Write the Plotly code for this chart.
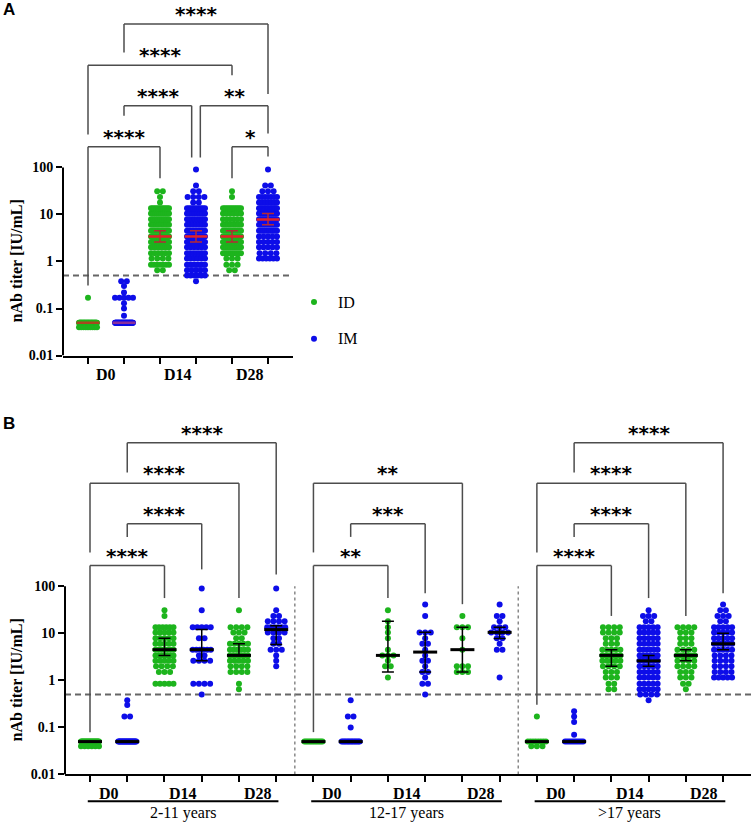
import math
import plotly.graph_objects as go

W, H = 753, 832
GREEN = "#1db41d"
BLUE = "#0d0de8"
SERIF = "Liberation Serif"

# ---------------- data: titer value (IU/mL) -> number of subjects ----------------
# age group 2-11 years
C211_D0_ID = {0.04: 6, 0.05: 22}
C211_D0_IM = {0.05: 24, 0.17: 2, 0.3: 1, 0.38: 1}
C211_D14_ID = {0.85: 5, 1.5: 3, 2.0: 4, 2.6: 5, 3.4: 7, 4.5: 7, 6.0: 5, 7.9: 5, 10.4: 5, 13.5: 6, 23.5: 1, 31: 1}
C211_D14_IM = {0.5: 1, 0.85: 4, 2.6: 4, 3.4: 2, 4.5: 6, 7.9: 2, 13.5: 5, 31: 1, 90: 1}
C211_D28_ID = {0.65: 1, 0.85: 1, 1.5: 4, 2.0: 4, 2.6: 5, 3.4: 7, 4.5: 6, 6.0: 5, 7.9: 2, 10.4: 3, 13.5: 4, 31: 1}
C211_D28_IM = {2.0: 1, 2.6: 1, 3.4: 1, 4.5: 3, 6.0: 2, 7.9: 2, 10.4: 4, 13.5: 6, 18: 4, 23.5: 2, 31: 1, 90: 1}
# age group 12-17 years
C1217_D0_ID = {0.05: 12}
C1217_D0_IM = {0.05: 14, 0.1: 1, 0.17: 2, 0.38: 1}
C1217_D14_ID = {1.15: 1, 2.0: 2, 2.6: 1, 3.4: 3, 4.5: 1, 7.9: 1, 10.4: 1, 13.5: 1, 18: 1, 31: 1}
C1217_D14_IM = {0.5: 1, 0.85: 2, 1.15: 1, 1.5: 2, 2.0: 1, 2.6: 2, 3.4: 1, 4.5: 1, 6.0: 2, 7.9: 1, 10.4: 3, 23.5: 1, 41: 1}
C1217_D28_ID = {1.5: 3, 2.0: 3, 4.5: 1, 7.9: 1, 13.5: 3, 23.5: 1}
C1217_D28_IM = {1.15: 1, 4.5: 2, 6.0: 1, 7.9: 2, 10.4: 4, 13.5: 3, 18: 1, 23.5: 2, 41: 1}
# age group >17 years
C17_D0_ID = {0.04: 3, 0.05: 8, 0.17: 1}
C17_D0_IM = {0.05: 10, 0.07: 1, 0.13: 1, 0.17: 1, 0.22: 1}
C17_D14_ID = {0.65: 2, 0.85: 2, 1.15: 3, 1.5: 3, 2.0: 4, 2.6: 5, 3.4: 6, 4.5: 5, 6.0: 3, 7.9: 3, 10.4: 4, 13.5: 4}
C17_D14_IM = {0.38: 1, 0.5: 4, 0.65: 5, 0.85: 5, 1.15: 5, 1.5: 5, 2.0: 5, 2.6: 6, 3.4: 6, 4.5: 6, 6.0: 5,
              7.9: 5, 10.4: 5, 13.5: 5, 18: 2, 23.5: 3, 31: 1}
C17_D28_ID = {0.65: 1, 0.85: 2, 1.15: 3, 1.5: 3, 2.0: 4, 2.6: 4, 3.4: 6, 4.5: 4, 6.0: 3, 7.9: 3, 10.4: 3, 13.5: 4}
C17_D28_IM = {1.15: 5, 1.5: 4, 2.0: 4, 2.6: 4, 3.4: 4, 4.5: 5, 6.0: 6, 7.9: 5, 10.4: 5, 13.5: 5, 18: 2,
              23.5: 3, 31: 2, 41: 1}

GROUPS_B = [
    [C211_D0_ID, C211_D0_IM, C211_D14_ID, C211_D14_IM, C211_D28_ID, C211_D28_IM],
    [C1217_D0_ID, C1217_D0_IM, C1217_D14_ID, C1217_D14_IM, C1217_D28_ID, C1217_D28_IM],
    [C17_D0_ID, C17_D0_IM, C17_D14_ID, C17_D14_IM, C17_D28_ID, C17_D28_IM],
]
AGE_LABELS = ["2-11 years", "12-17 years", ">17 years"]
DAY_LABELS = ["D0", "D14", "D28"]
ROUTE_LABELS = ["ID", "IM"]
LOD = 0.5

# medians with error bars
MED_A = [0.05, 0.05, 3.4, 3.4, 3.4, 7.8]
LO_A = [0.05, 0.05, 2.6, 2.6, 2.6, 6.0]
HI_A = [0.05, 0.05, 4.5, 4.5, 4.5, 10.4]
MED_B = [0.05, 0.05, 4.5, 4.5, 3.4, 12.0,
         0.05, 0.05, 3.4, 4.0, 4.5, 10.5,
         0.05, 0.05, 3.4, 2.6, 3.4, 6.0]
LO_B = [0.05, 0.05, 3.4, 2.6, 3.4, 5.8,
        0.05, 0.05, 1.5, 1.5, 1.5, 7.8,
        0.05, 0.05, 2.0, 2.0, 2.6, 4.5]
HI_B = [0.05, 0.05, 7.9, 12.0, 6.0, 14.5,
        0.05, 0.05, 18.0, 10.5, 13.5, 13.5,
        0.05, 0.05, 4.5, 3.4, 4.5, 10.0]

# significance brackets: (left col, right col, bar level log10, left leg end log10, right leg end log10, label)
BRACKETS_A = [
    (1, 5, 5.05, 4.44, 3.56, "****"),
    (0, 4, 4.17, 2.70, 3.96, "****"),
    (1, 2.88, 3.31, 3.10, 2.21, "****"),
    (3.12, 5, 3.31, 2.21, 2.72, "**"),
    (4, 5, 2.44, 1.77, 2.23, "*"),
    (0, 2, 2.44, -0.51, 1.77, "****"),
]
BRACKETS_B = [
    (1, 5, 5.05, 4.42, 2.25, "****"),
    (0, 4, 4.19, 2.72, 1.75, "****"),
    (1, 3, 3.33, 3.05, 2.36, "****"),
    (0, 2, 2.44, -1.10, 1.75, "****"),
    (6, 10, 4.19, 2.72, 1.62, "**"),
    (7, 9, 3.33, 3.05, 1.85, "***"),
    (6, 8, 2.44, -1.10, 1.75, "**"),
    (13, 17, 5.05, 4.42, 1.85, "****"),
    (12, 16, 4.19, 2.72, 1.37, "****"),
    (13, 15, 3.33, 3.05, 1.75, "****"),
    (12, 14, 2.44, -0.52, 1.37, "****"),
]

# ---------------- geometry (pixels) ----------------
A_X0, A_X1, A_C0, A_PPU = 63, 293, 88, 36.0
A_YBOT, A_PPD = 359, 47.5
B_X0, B_X1, B_C0, B_PPU = 65, 751, 90, 37.24
B_YBOT, B_YTOP = 782, 420

a_xr = [(A_X0 - A_C0) / A_PPU, (A_X1 - A_C0) / A_PPU]
b_xr = [(B_X0 - B_C0) / B_PPU, (B_X1 - B_C0) / B_PPU]
a_yr = [-2, -2 + A_YBOT / A_PPD]
b_yr = [-2, -2 + (B_YBOT - B_YTOP) / A_PPD]


def swarm(counts, center, ppu, dot=5.6, span=18.0):
    xs, ys = [], []
    for v in sorted(counts):
        n = counts[v]
        step = dot if (n - 1) * dot <= span else span / (n - 1)
        for i in range(n):
            xs.append(center + (i - (n - 1) / 2) * step / ppu)
            ys.append(v)
    return xs, ys


def pooled(col):
    out = {}
    for g in GROUPS_B:
        for v, n in g[col].items():
            out[v] = out.get(v, 0) + n
    return out


fig = go.Figure()

# ---- Panel A points (all ages pooled) ----
for col in range(6):
    xs, ys = swarm(pooled(col), col, A_PPU)
    fig.add_trace(go.Scatter(x=xs, y=ys, mode="markers", xaxis="x", yaxis="y",
                             marker=dict(size=6, color=GREEN if col % 2 == 0 else BLUE),
                             showlegend=False, hoverinfo="skip"))
# ---- Panel B points ----
for g, grp in enumerate(GROUPS_B):
    for col in range(6):
        xs, ys = swarm(grp[col], g * 6 + col, B_PPU)
        fig.add_trace(go.Scatter(x=xs, y=ys, mode="markers", xaxis="x2", yaxis="y2",
                                 marker=dict(size=6, color=GREEN if col % 2 == 0 else BLUE),
                                 showlegend=False, hoverinfo="skip"))

# ---- error bars ----
fig.add_trace(go.Scatter(x=list(range(6)), y=MED_A, mode="markers", xaxis="x", yaxis="y",
                         marker=dict(size=1, color="rgba(0,0,0,0)"),
                         error_y=dict(type="data", symmetric=False,
                                      array=[h - m for h, m in zip(HI_A, MED_A)],
                                      arrayminus=[m - l for l, m in zip(LO_A, MED_A)],
                                      color="#b52a35", thickness=1.5, width=6),
                         showlegend=False, hoverinfo="skip"))
fig.add_trace(go.Scatter(x=list(range(18)), y=MED_B, mode="markers", xaxis="x2", yaxis="y2",
                         marker=dict(size=1, color="rgba(0,0,0,0)"),
                         error_y=dict(type="data", symmetric=False,
                                      array=[h - m for h, m in zip(HI_B, MED_B)],
                                      arrayminus=[m - l for l, m in zip(LO_B, MED_B)],
                                      color="black", thickness=1.5, width=6),
                         showlegend=False, hoverinfo="skip"))

# ---- median lines ----
A_MEDCOL = ["#a8461f", "#8a2f9a", "#e3202a", "#e3202a", "#e3202a", "#e3202a"]
for col in range(6):
    hw = 11.5 / A_PPU
    fig.add_trace(go.Scatter(x=[col - hw, col + hw], y=[MED_A[col]] * 2, mode="lines",
                             xaxis="x", yaxis="y", line=dict(color=A_MEDCOL[col], width=2.5),
                             showlegend=False, hoverinfo="skip"))
mx, my = [], []
for col in range(18):
    hw = 12 / B_PPU
    mx += [col - hw, col + hw, None]
    my += [MED_B[col], MED_B[col], None]
fig.add_trace(go.Scatter(x=mx, y=my, mode="lines", xaxis="x2", yaxis="y2",
                         line=dict(color="black", width=3), showlegend=False, hoverinfo="skip"))

shapes = []
annos = []
BR_COLOR = "#4d4d4d"
STAR_OFF = 10  # px above bracket bar


def add_brackets(brs, xref, yref):
    for (l, r, lev, le, re_, lab) in brs:
        for (x0, y0, x1, y1) in [(l, le, l, lev), (l, lev, r, lev), (r, lev, r, re_)]:
            shapes.append(dict(type="line", xref=xref, yref=yref, x0=x0, y0=10 ** y0, x1=x1, y1=10 ** y1,
                               line=dict(color=BR_COLOR, width=1.5)))
        annos.append(dict(xref=xref, yref=yref, x=(l + r) / 2, y=lev + STAR_OFF / A_PPD, text=lab,
                          showarrow=False, xanchor="center", yanchor="middle",
                          font=dict(family="DejaVu Sans", size=20, color="black", weight="bold")))


add_brackets(BRACKETS_A, "x", "y")
add_brackets(BRACKETS_B, "x2", "y2")

# y-axis lines (only 0.01 - 100)
shapes.append(dict(type="line", xref="paper", yref="y", x0=A_X0 / W, x1=A_X0 / W, y0=0.01, y1=100,
                   line=dict(color="black", width=2)))
shapes.append(dict(type="line", xref="paper", yref="y2", x0=B_X0 / W, x1=B_X0 / W, y0=0.01, y1=100,
                   line=dict(color="black", width=2)))
# LOD dashed lines
shapes.append(dict(type="line", xref="x", yref="y", x0=a_xr[0], x1=a_xr[1], y0=LOD, y1=LOD, layer="below",
                   line=dict(color="#666666", width=2, dash="6px,4px")))
shapes.append(dict(type="line", xref="x2", yref="y2", x0=b_xr[0], x1=b_xr[1], y0=LOD, y1=LOD, layer="below",
                   line=dict(color="#666666", width=2, dash="6px,4px")))
# dotted group separators
for xs_ in (5.5, 11.5):
    shapes.append(dict(type="line", xref="x2", yref="y2", x0=xs_, x1=xs_, y0=0.01, y1=100, layer="below",
                       line=dict(color="#888888", width=1.5, dash="dot")))

# x category labels
lab_font = dict(family=SERIF, size=16, color="black", weight="bold")
for d, dl in enumerate(DAY_LABELS):
    annos.append(dict(xref="x", yref="paper", x=2 * d + 0.5, y=1 - 378 / H, text=dl, showarrow=False,
                      xanchor="center", yanchor="middle", font=lab_font))
for g, al in enumerate(AGE_LABELS):
    for d, dl in enumerate(DAY_LABELS):
        annos.append(dict(xref="x2", yref="paper", x=g * 6 + 2 * d + 0.5, y=1 - 801 / H, text=dl,
                          showarrow=False, xanchor="center", yanchor="middle", font=lab_font))
    shapes.append(dict(type="line", xref="x2", yref="paper", x0=g * 6 - 0.06, x1=g * 6 + 5.06,
                       y0=1 - 809 / H, y1=1 - 809 / H, line=dict(color="black", width=2)))
    annos.append(dict(xref="x2", yref="paper", x=g * 6 + 2.5, y=1 - 821 / H, text=al, showarrow=False,
                      xanchor="center", yanchor="middle",
                      font=dict(family=SERIF, size=16, color="black")))

# y titles
for yref in ("y", "y2"):
    annos.append(dict(xref="paper", yref=yref, x=16 / W, y=0, text="nAb titer [IU/mL]", textangle=-90,
                      showarrow=False, xanchor="center", yanchor="middle",
                      font=dict(family=SERIF, size=16, color="black", weight="bold")))

# panel letters
annos.append(dict(xref="paper", yref="paper", x=1 / W, y=1 - 10 / H, text="A", showarrow=False,
                  xanchor="left", yanchor="middle",
                  font=dict(family="Liberation Sans", size=17, color="black", weight="bold")))
annos.append(dict(xref="paper", yref="paper", x=1 / W, y=1 - 428 / H, text="B", showarrow=False,
                  xanchor="left", yanchor="middle",
                  font=dict(family="Liberation Sans", size=17, color="black", weight="bold")))

# legend (panel A)
for i, (lab, colr) in enumerate(zip(ROUTE_LABELS, [GREEN, BLUE])):
    py = 305 + i * 37
    shapes.append(dict(type="circle", xref="paper", yref="paper", xsizemode="pixel", ysizemode="pixel",
                       xanchor=314 / W, yanchor=1 - py / H, x0=-3, x1=3, y0=-3, y1=3,
                       fillcolor=colr, line=dict(width=0)))
    annos.append(dict(xref="paper", yref="paper", x=336 / W, y=1 - py / H, text=lab, showarrow=False,
                      xanchor="left", yanchor="middle", font=dict(family=SERIF, size=16, color="black")))

tickfont = dict(family=SERIF, size=14, color="black", weight="bold")
yticks = [0.01, 0.1, 1, 10, 100]
yticktext = ["0.01", "0.1", "1", "10", "100"]
common_x = dict(showgrid=False, zeroline=False, showline=True, linewidth=2, linecolor="black",
                ticks="outside", ticklen=6, tickwidth=2, tickcolor="black", showticklabels=False)
common_y = dict(type="log", showgrid=False, zeroline=False, showline=False, ticks="outside", ticklen=6,
                tickwidth=2, tickcolor="black", tickvals=yticks, ticktext=yticktext, tickfont=tickfont)

fig.update_layout(
    width=W, height=H, margin=dict(l=0, r=0, t=0, b=0),
    plot_bgcolor="white", paper_bgcolor="white", showlegend=False,
    xaxis=dict(domain=[A_X0 / W, A_X1 / W], range=a_xr, tickvals=list(range(6)), anchor="y", **common_x),
    yaxis=dict(domain=[1 - A_YBOT / H, 1.0], range=a_yr, anchor="x", **common_y),
    xaxis2=dict(domain=[B_X0 / W, B_X1 / W], range=b_xr, tickvals=list(range(18)), anchor="y2", **common_x),
    yaxis2=dict(domain=[1 - B_YBOT / H, 1 - B_YTOP / H], range=b_yr, anchor="x2", **common_y),
    shapes=shapes, annotations=annos,
)

PAGE_FIX = (
    "var de=document.documentElement, b=document.body;"
    "de.style.margin='0'; de.style.padding='0'; de.style.overflow='hidden';"
    "b.style.margin='0'; b.style.padding='0'; b.style.overflow='hidden';"
)
fig.write_html("out.html", config={"displayModeBar": False}, post_script=PAGE_FIX)
